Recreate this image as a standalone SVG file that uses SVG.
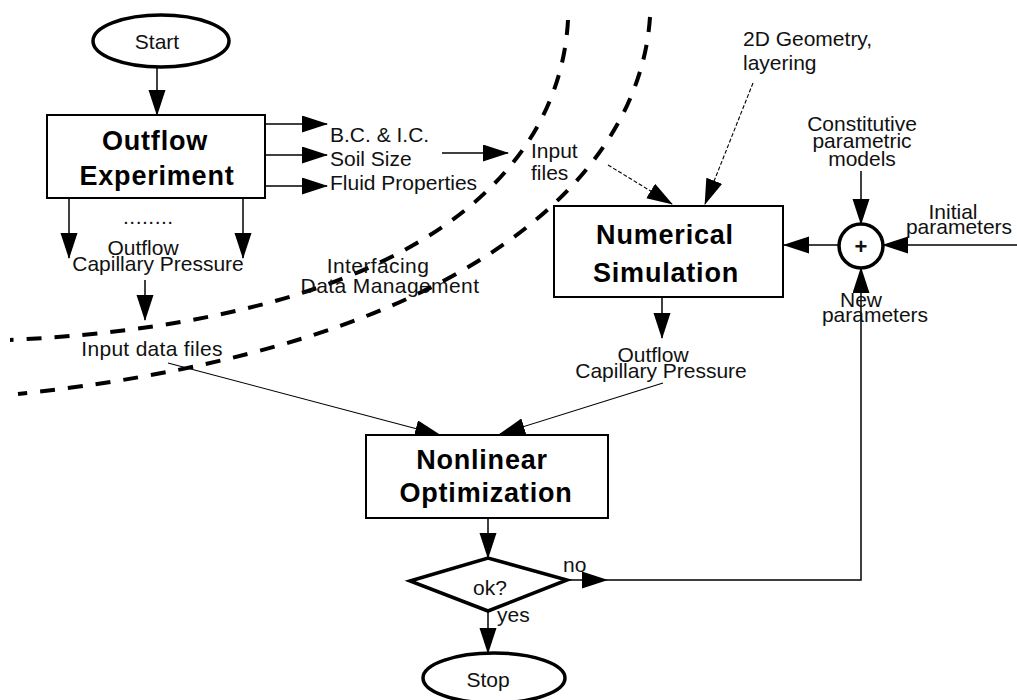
<svg xmlns="http://www.w3.org/2000/svg" width="1017" height="700" viewBox="0 0 1017 700">
<defs>
<marker id="ah" markerUnits="userSpaceOnUse" markerWidth="26" markerHeight="18" refX="25" refY="8.5" orient="auto">
<path d="M0,0 L26,8.5 L0,17 z" fill="#000"/>
</marker>
<style>
text{font-family:"Liberation Sans",Arial,sans-serif;fill:#111}
.t{font-size:21px}
.b{font-size:27px;font-weight:bold;letter-spacing:0.8px;fill:#000}
.box{fill:#fff;stroke:#000;stroke-width:2}
.thick{fill:#fff;stroke:#000;stroke-width:3.5}
.a{fill:none;stroke:#000;stroke-width:1.5;marker-end:url(#ah)}
.thin{fill:none;stroke:#000;stroke-width:1.1;marker-end:url(#ah)}
.dot{fill:none;stroke:#000;stroke-width:1.1;stroke-dasharray:4 2;marker-end:url(#ah)}
.dash{fill:none;stroke:#000;stroke-width:4;stroke-dasharray:15 13}
</style>
</defs>
<rect width="1017" height="700" fill="#fff"/>
<g id="boundaries">
<path class="dash" d="M568 20 C560 170 420 320 10 340"/>
<path class="dash" d="M650 17 C640 170 480 345 18 394"/>
</g>
<g id="connectors">
<line class="a" x1="157" y1="67" x2="157" y2="115"/>
<line class="a" x1="265" y1="124" x2="327" y2="124"/>
<line class="a" x1="265" y1="155" x2="327" y2="155"/>
<line class="a" x1="265" y1="186" x2="327" y2="186"/>
<line class="a" x1="69" y1="198" x2="69" y2="258"/>
<line class="a" x1="243" y1="198" x2="243" y2="258"/>
<line class="a" x1="145" y1="280" x2="145" y2="320"/>
<line class="a" x1="442" y1="153" x2="508" y2="153"/>
<line class="dot" x1="608" y1="165" x2="672" y2="204"/>
<line class="dot" x1="753" y1="83" x2="705" y2="204"/>
<line class="a" x1="861" y1="171" x2="861" y2="224"/>
<line class="a" x1="1017" y1="245" x2="883" y2="245"/>
<line class="a" x1="839" y1="245" x2="784" y2="245"/>
<line class="a" x1="662" y1="297" x2="662" y2="338"/>
<line class="thin" x1="168" y1="363" x2="440" y2="435"/>
<line class="thin" x1="663" y1="383" x2="500" y2="434"/>
<line class="a" x1="488" y1="518" x2="488" y2="558"/>
<line class="a" x1="567" y1="580" x2="607" y2="580"/>
<polyline class="a" points="607,580 861,580 861,268"/>
<line class="a" x1="488" y1="611" x2="488" y2="653"/>
</g>
<g id="start">
<ellipse class="thick" cx="161" cy="41" rx="68" ry="26"/>
<text class="t" x="157" y="49" text-anchor="middle">Start</text>
</g>
<g id="outflow-experiment">
<rect class="box" x="47" y="115" width="218" height="83"/>
<text class="b" x="155" y="150" text-anchor="middle">Outflow</text>
<text class="b" x="157" y="185" text-anchor="middle">Experiment</text>
</g>
<g id="exp-outputs">
<text class="t" x="330" y="142">B.C. &amp; I.C.</text>
<text class="t" x="330" y="166">Soil Size</text>
<text class="t" x="330" y="190">Fluid Properties</text>
<text class="t" x="123" y="224" letter-spacing="0.5">........</text>
<text class="t" x="143" y="255" text-anchor="middle">Outflow</text>
<text class="t" x="158" y="271" text-anchor="middle">Capillary Pressure</text>
</g>
<g id="input-files">
<text class="t" x="531" y="158">Input</text>
<text class="t" x="531" y="180">files</text>
</g>
<g id="interfacing">
<text class="t" x="378" y="273" text-anchor="middle" letter-spacing="0.4">Interfacing</text>
<text class="t" x="390" y="293" text-anchor="middle" letter-spacing="0.4">Data Management</text>
</g>
<g id="input-data-files">
<text class="t" x="152" y="356" text-anchor="middle" letter-spacing="0.3">Input data files</text>
</g>
<g id="geometry">
<text class="t" x="743" y="46">2D Geometry,</text>
<text class="t" x="743" y="70">layering</text>
</g>
<g id="numerical-simulation">
<rect class="box" x="554" y="206" width="229" height="91"/>
<text class="b" x="665" y="244" text-anchor="middle">Numerical</text>
<text class="b" x="666" y="282" text-anchor="middle">Simulation</text>
</g>
<g id="constitutive">
<text class="t" x="862" y="131" text-anchor="middle">Constitutive</text>
<text class="t" x="862" y="148" text-anchor="middle">parametric</text>
<text class="t" x="862" y="166" text-anchor="middle">models</text>
</g>
<g id="sum">
<circle cx="861" cy="246" r="22" fill="#fff" stroke="#000" stroke-width="3.5"/>
<text x="861" y="254" text-anchor="middle" font-size="22" font-weight="bold" fill="#000">+</text>
</g>
<g id="initial-params">
<text class="t" x="953" y="219" text-anchor="middle">Initial</text>
<text class="t" x="959" y="234" text-anchor="middle">parameters</text>
</g>
<g id="new-params">
<text class="t" x="861" y="307" text-anchor="middle">New</text>
<text class="t" x="875" y="322" text-anchor="middle">parameters</text>
</g>
<g id="sim-outputs">
<text class="t" x="653" y="362" text-anchor="middle">Outflow</text>
<text class="t" x="661" y="378" text-anchor="middle">Capillary Pressure</text>
</g>
<g id="nonlinear-optimization">
<rect class="box" x="366" y="435" width="242" height="83"/>
<text class="b" x="482" y="469" text-anchor="middle">Nonlinear</text>
<text class="b" x="486" y="502" text-anchor="middle">Optimization</text>
</g>
<g id="ok">
<polygon class="thick" points="410,581 488,558 567,580 488,611"/>
<text class="t" x="490" y="595" text-anchor="middle">ok?</text>
<text class="t" x="563" y="572">no</text>
<text class="t" x="497" y="622">yes</text>
</g>
<g id="stop">
<ellipse class="thick" cx="494" cy="678" rx="71" ry="25"/>
<text class="t" x="488" y="687" text-anchor="middle">Stop</text>
</g>
</svg>
